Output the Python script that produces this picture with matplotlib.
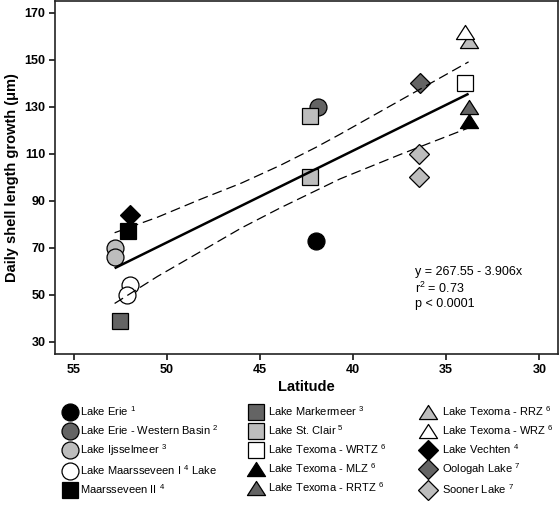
import matplotlib
matplotlib.use("Agg")
import matplotlib.pyplot as plt
from matplotlib.lines import Line2D
from matplotlib.path import Path
import numpy as np

plt.rcParams['font.family'] = ['Liberation Sans', 'DejaVu Sans']
plt.rcParams['mathtext.fontset'] = 'custom'
plt.rcParams['mathtext.rm'] = 'Liberation Sans'
plt.rcParams['mathtext.it'] = 'Liberation Sans:italic'
plt.rcParams['mathtext.bf'] = 'Liberation Sans:bold'

# ---------------- data ----------------
names = ["Lake Erie $^{1}$", "Lake Erie - Western Basin $^{2}$", "Lake Ijsselmeer $^{3}$",
         "Lake Maarsseveen I $^{4}$ Lake", "Maarsseveen II $^{4}$",
         "Lake Markermeer $^{3}$", "Lake St. Clair $^{5}$", "Lake Texoma - WRTZ $^{6}$",
         "Lake Texoma - MLZ $^{6}$", "Lake Texoma - RRTZ $^{6}$",
         "Lake Texoma - RRZ $^{6}$", "Lake Texoma - WRZ $^{6}$", "Lake Vechten $^{4}$",
         "Oologah Lake $^{7}$", "Sooner Lake $^{7}$"]

lat_erie = [42.0];            gr_erie = [73]
lat_erie_wb = [41.9];         gr_erie_wb = [130]
lat_ijssel = [52.8, 52.8];    gr_ijssel = [70, 66]
lat_maars1 = [52.0, 52.15];   gr_maars1 = [54, 50]
lat_maars2 = [52.1];          gr_maars2 = [77]
lat_marker = [52.5];          gr_marker = [39]
lat_stclair = [42.3, 42.3];   gr_stclair = [126, 100]
lat_wrtz = [34.0];            gr_wrtz = [140]
lat_mlz = [33.8];             gr_mlz = [124]
lat_rrtz = [33.8];            gr_rrtz = [130]
lat_rrz = [33.8];             gr_rrz = [158]
lat_wrz = [34.0];             gr_wrz = [162]
lat_vechten = [52.0];         gr_vechten = [84]
lat_oologah = [36.4];         gr_oologah = [140]
lat_sooner = [36.45, 36.45];  gr_sooner = [110, 100]

fit_intercept = 267.55
fit_slope = -3.906
fit_range = [52.8, 33.8]

band_x = [52.8, 50.5, 48.2, 46.0, 43.9, 42.0, 40.7, 37.5, 33.8]
band_upper = [76.4, 83.0, 90.6, 97.5, 105.1, 112.7, 118.3, 132.6, 149.1]
band_lower = [46.3, 57.8, 68.3, 78.4, 87.0, 94.3, 99.3, 109.6, 121.0]

xticks = [55, 50, 45, 40, 35, 30]
yticks = [30, 50, 70, 90, 110, 130, 150, 170]

# ---------------- style ----------------
BLACK = '#000000'
DARK = '#646464'
LIGHT = '#bdbdbd'
WHITE = '#ffffff'
tri = Path([(0, 0.78), (-1, -0.78), (1, -0.78), (0, 0.78)],
           [Path.MOVETO, Path.LINETO, Path.LINETO, Path.CLOSEPOLY])

series = [
    (lat_erie, gr_erie, 'o', BLACK, 12.2),
    (lat_erie_wb, gr_erie_wb, 'o', DARK, 12.2),
    (lat_ijssel, gr_ijssel, 'o', LIGHT, 12.2),
    (lat_maars1, gr_maars1, 'o', WHITE, 12.2),
    (lat_maars2, gr_maars2, 's', BLACK, 11.0),
    (lat_marker, gr_marker, 's', DARK, 11.0),
    (lat_stclair, gr_stclair, 's', LIGHT, 11.0),
    (lat_wrtz, gr_wrtz, 's', WHITE, 11.0),
    (lat_mlz, gr_mlz, tri, BLACK, 13.0),
    (lat_rrtz, gr_rrtz, tri, DARK, 13.0),
    (lat_rrz, gr_rrz, tri, LIGHT, 13.0),
    (lat_wrz, gr_wrz, tri, WHITE, 13.0),
    (lat_vechten, gr_vechten, 'D', BLACK, 10.0),
    (lat_oologah, gr_oologah, 'D', DARK, 10.0),
    (lat_sooner, gr_sooner, 'D', LIGHT, 10.0),
]

W, H = 559, 508
fig = plt.figure(figsize=(W / 100, H / 100), dpi=100)
ax = fig.add_axes([55 / W, 1 - 354 / H, (558 - 55) / W, (354 - 1) / H])

handles = []
for (xs, ys, mk, col, ms), name in zip(series, names):
    ax.plot(xs, ys, ls='none', marker=mk, ms=ms, mfc=col, mec='black', mew=0.9, zorder=3)
    handles.append(Line2D([], [], ls='none', marker=mk, ms=ms, mfc=col, mec='black', mew=0.9, label=name))

fx = np.array(fit_range)
ax.plot(fx, fit_intercept + fit_slope * fx, color='black', lw=1.8, zorder=4,
        solid_capstyle='butt')
ax.plot(band_x, band_upper, color='black', lw=0.9, ls=(0, (8, 4)), zorder=4)
ax.plot(band_x, band_lower, color='black', lw=0.9, ls=(0, (8, 4)), zorder=4)

ax.text(36.65, 59.7, 'y = 267.55 - 3.906x', fontsize=9, ha='left', va='center')
ax.text(36.65, 52.7, 'r$^{2}$ = 0.73', fontsize=9, ha='left', va='center')
ax.text(36.65, 45.9, 'p < 0.0001', fontsize=9, ha='left', va='center')

ax.set_xlim(56, 29)
ax.set_ylim(24.8, 175)
ax.set_xticks(xticks)
ax.set_yticks(yticks)
ax.tick_params(direction='out', length=4.5, width=1.1, pad=2.5, labelsize=9)
for lab in ax.get_xticklabels() + ax.get_yticklabels():
    lab.set_fontweight('bold')
for sp in ax.spines.values():
    sp.set_linewidth(1.2)
    sp.set_color('#222222')

ax.set_xlabel('Latitude', fontsize=10.5, fontweight='bold', labelpad=3)
ax.set_ylabel('Daily shell length growth (\u03bcm)', fontsize=10.5, fontweight='bold', labelpad=4)

# legend in three columns
col_pos = [(63.3, 0.30), (249.3, 0.49), (421.0, 0.67)]
for i, (x0, pad) in enumerate(col_pos):
    lg = fig.legend(handles=handles[i * 5:(i + 1) * 5], loc='upper left',
                    bbox_to_anchor=(x0 / W, 1 - 404 / H), frameon=False,
                    fontsize=8, borderpad=0, borderaxespad=0, handlelength=1.2,
                    handletextpad=pad, labelspacing=0.48)

fig.savefig('out.png', dpi=100)
